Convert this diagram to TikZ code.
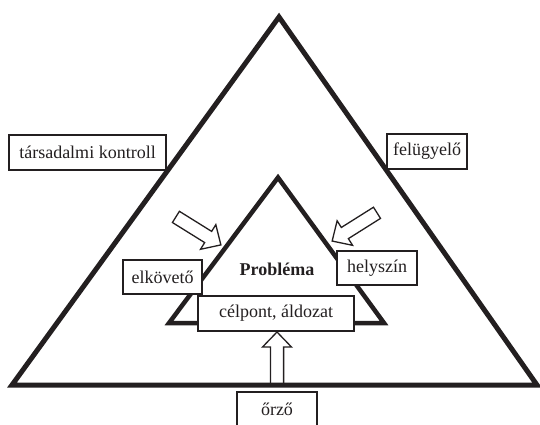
\documentclass[tikz,border=0pt]{standalone}
\usepackage{fontspec}
\setmainfont{Liberation Serif}
\definecolor{ink}{RGB}{35,31,32}
\begin{document}
\begin{tikzpicture}[x=1pt,y=-1pt,
  box/.style={draw=ink, fill=white, line width=1.3pt, inner sep=0pt, minimum height=35pt, text=ink, font=\fontsize{18}{20}\selectfont},
  tri/.style={draw=ink, line join=miter},
  barrow/.style={draw=ink, fill=white, line width=1.3pt, line join=miter},
  blockarrow/.pic={\draw[barrow] (0,6.6) -- (38,6.6) -- (38,14.5) -- (53,0) -- (38,-14.5) -- (38,-6.6) -- (0,-6.6) -- cycle;}]
\useasboundingbox (0,0) rectangle (540,424);
% block arrows
\pic[rotate=-31.9] at (175.9,216.9) {blockarrow};
\pic[rotate=-147.8] at (377,212.8) {blockarrow};
\pic[rotate=90] at (277,385) {blockarrow};
% triangles
\draw[tri, line width=5pt] (279,17) -- (12,385) -- (537,385) -- cycle;
\draw[tri, line width=4.5pt] (278,177.5) -- (169,323) -- (384,323) -- cycle;
% boxes
\node[box, minimum width=157pt] (tk) at (87.5,152.5) {társadalmi kontroll};
\node[box, minimum width=80pt] (fe) at (427,151.5) {felügyelő};
\node[box, minimum width=79pt, minimum height=34pt] (el) at (162.5,277) {elkövető};
\node[box, minimum width=80pt, minimum height=34pt] (he) at (377,268) {helyszín};
\node[box, minimum width=156pt] (ce) at (276,313.5) {célpont, áldozat};
\node[box, minimum width=80pt] (or) at (277,409.5) {őrző};
\node[text=ink, font=\fontsize{18}{20}\selectfont\bfseries] (pr) at (277,269) {Probléma};
\end{tikzpicture}
\end{document}
